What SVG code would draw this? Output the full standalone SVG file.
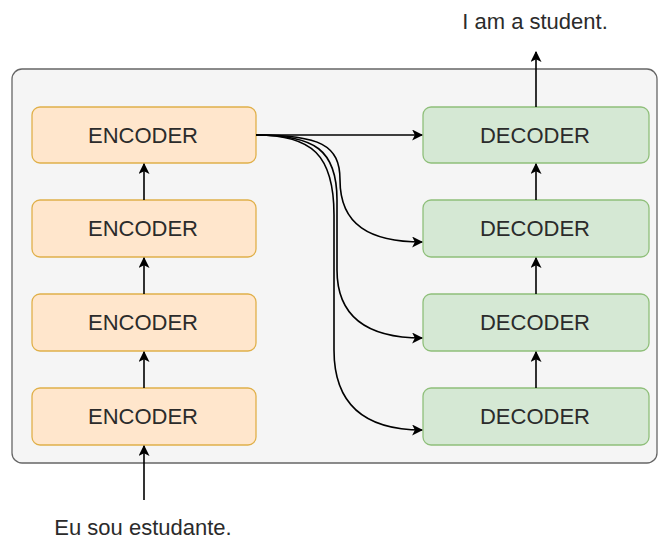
<svg xmlns="http://www.w3.org/2000/svg" width="658" height="541" viewBox="0 0 658 541">
<defs>
<marker id="ah" viewBox="0 0 10 10" refX="9" refY="5" markerWidth="11" markerHeight="11" markerUnits="userSpaceOnUse" orient="auto">
<path d="M0,0 L10,5 L0,10 L2.5,5 Z" fill="#000"/>
</marker>
<style>
.enc{fill:#ffe6cc;stroke:#e0b04a;stroke-width:1.3}
.dec{fill:#d5e8d4;stroke:#8fbf7a;stroke-width:1.3}
.t{font-family:"Liberation Sans",Arial,sans-serif;font-size:22px;fill:#2b2b2b;text-anchor:middle;dominant-baseline:central}
.c{fill:none;stroke:#000;stroke-width:1.6;marker-end:url(#ah)}
</style>
</defs>
<rect width="658" height="541" fill="#fff"/>
<rect id="container" x="12" y="69" width="645" height="394" rx="10" fill="#f5f5f5" stroke="#666" stroke-width="1.3"/>
<g id="enc1"><rect class="enc" x="32" y="107" width="224" height="56" rx="8"/><text class="t" x="143" y="135">ENCODER</text></g>
<g id="enc2"><rect class="enc" x="32" y="200" width="224" height="57" rx="8"/><text class="t" x="143" y="228">ENCODER</text></g>
<g id="enc3"><rect class="enc" x="32" y="294" width="224" height="57" rx="8"/><text class="t" x="143" y="322">ENCODER</text></g>
<g id="enc4"><rect class="enc" x="32" y="388" width="224" height="57" rx="8"/><text class="t" x="143" y="416">ENCODER</text></g>
<g id="dec1"><rect class="dec" x="423" y="107" width="226" height="56" rx="8"/><text class="t" x="535" y="135">DECODER</text></g>
<g id="dec2"><rect class="dec" x="423" y="200" width="226" height="57" rx="8"/><text class="t" x="535" y="228">DECODER</text></g>
<g id="dec3"><rect class="dec" x="423" y="294" width="226" height="57" rx="8"/><text class="t" x="535" y="322">DECODER</text></g>
<g id="dec4"><rect class="dec" x="423" y="388" width="226" height="57" rx="8"/><text class="t" x="535" y="416">DECODER</text></g>
<g id="in"><text class="t" x="143" y="527">Eu sou estudante.</text></g>
<g id="out"><text class="t" x="535" y="21">I am a student.</text></g>
<g id="connectors">
<path class="c" d="M144,500 L144,446"/>
<path class="c" d="M144,388 L144,352"/>
<path class="c" d="M144,294 L144,258"/>
<path class="c" d="M144,200 L144,164"/>
<path class="c" d="M536,388 L536,352"/>
<path class="c" d="M536,294 L536,258"/>
<path class="c" d="M536,200 L536,164"/>
<path class="c" d="M536,107 L536,52"/>
<path class="c" d="M256,135 L422,135"/>
<path class="c" d="M256,135 C320,135 340,145 340,180 C340,225 370,242 422,242"/>
<path class="c" d="M256,135 C315,135 337,150 337,200 L337,270 C337,315 365,338 422,338"/>
<path class="c" d="M256,135 C312,135 334,155 334,215 L334,350 C334,405 365,430 422,430"/>
</g>
</svg>
